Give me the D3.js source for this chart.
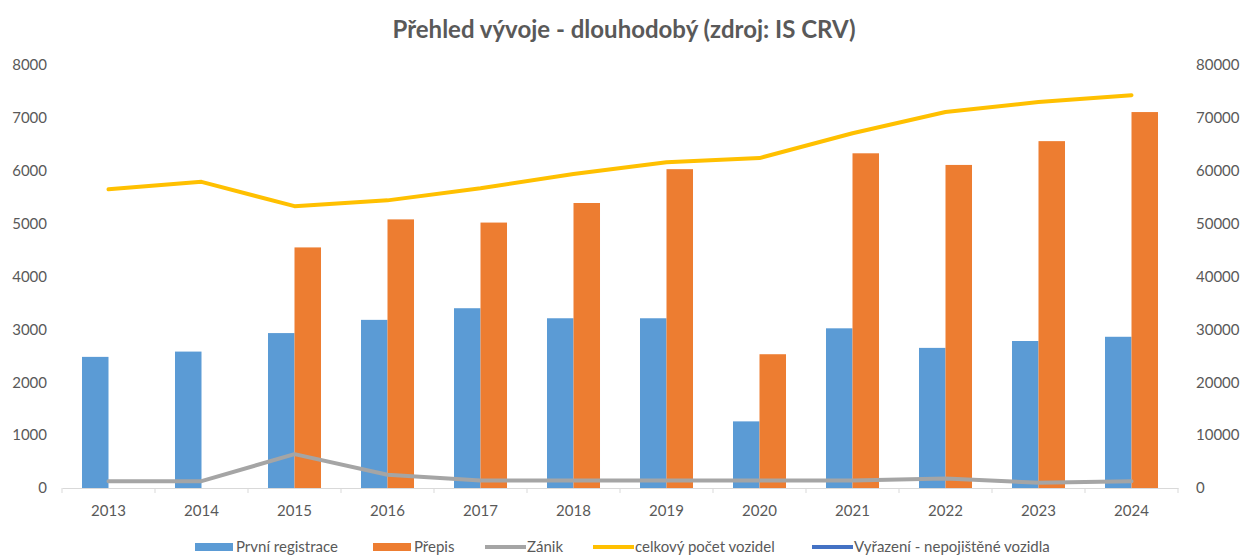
<!DOCTYPE html>
<html><head><meta charset="utf-8">
<script src="https://cdn.jsdelivr.net/npm/d3@7"></script>
<style>body{margin:0;background:#fff}svg{display:block}</style>
</head><body><svg id="c" width="1240" height="556"></svg>
<script>
const years = ["2013","2014","2015","2016","2017","2018","2019","2020","2021","2022","2023","2024"];
const prvniRegistrace = [2480,2580,2930,3180,3400,3210,3210,1260,3020,2650,2780,2860];
const prepis = [null,null,4550,5080,5020,5390,6030,2530,6330,6110,6560,7110];
const zanik = [130,130,640,250,140,140,140,140,140,180,100,130];
const celkovyPocet = [56500,57900,53300,54400,56700,59400,61600,62400,67100,71100,73000,74300];
const vyrazeni = [null,null,null,null,null,null,null,null,null,null,null,null];
const leftTicks = [0,1000,2000,3000,4000,5000,6000,7000,8000];
const rightTicks = [0,10000,20000,30000,40000,50000,60000,70000,80000];
const title = "Přehled vývoje - dlouhodobý (zdroj: IS CRV)";
const legendItems = [
  {name:"První registrace", type:"bar", color:"#5B9BD5"},
  {name:"Přepis", type:"bar", color:"#ED7D31"},
  {name:"Zánik", type:"line", color:"#A5A5A5"},
  {name:"celkový počet vozidel", type:"line", color:"#FFC000"},
  {name:"Vyřazení - nepojištěné vozidla", type:"line", color:"#4472C4"}
];

const svg = d3.select("#c");
const F = "Lato, 'Open Sans', sans-serif";
const L = 62, R = 1178, T = 65, B = 488;
const x = d3.scaleBand().domain(years).range([L,R]).paddingInner(0).paddingOuter(0);
const yL = d3.scaleLinear().domain([0,8000]).range([B,T]);
const yR = d3.scaleLinear().domain([0,80000]).range([B,T]);
const bw = x.bandwidth()*0.285;

svg.append("text").attr("x",624).attr("y",38).attr("text-anchor","middle")
  .attr("font-family",F).attr("font-weight","bold").attr("font-size",24).attr("fill","#595959").text(title);

// x axis
const xa = svg.append("g").attr("transform",`translate(0,${B})`)
  .call(d3.axisBottom(x).tickSize(0).tickPadding(17));
xa.select(".domain").attr("stroke","#D9D9D9");
xa.selectAll("text").attr("font-family",F).attr("font-size",15).attr("fill","#595959");
svg.append("g").selectAll("line").data(d3.range(years.length+1)).join("line")
  .attr("x1",i=>L+i*x.step()).attr("x2",i=>L+i*x.step()).attr("y1",B).attr("y2",B+5).attr("stroke","#D9D9D9");

// left axis
const la = svg.append("g").attr("transform",`translate(${L-15},0)`)
  .call(d3.axisLeft(yL).tickValues(leftTicks).tickSize(0).tickPadding(0).tickFormat(d3.format("d")));
la.select(".domain").remove();
la.selectAll("text").attr("font-family",F).attr("font-size",15).attr("fill","#595959");
const ra = svg.append("g").attr("transform",`translate(${R+18},0)`)
  .call(d3.axisRight(yR).tickValues(rightTicks).tickSize(0).tickPadding(0).tickFormat(d3.format("d")));
ra.select(".domain").remove();
ra.selectAll("text").attr("font-family",F).attr("font-size",15).attr("fill","#595959");

// bars
const cx = d => x(d)+x.bandwidth()/2;
svg.append("g").selectAll("rect").data(years.map((y,i)=>({y,v:prvniRegistrace[i]})).filter(d=>d.v!=null)).join("rect")
  .attr("x",d=>cx(d.y)-bw).attr("width",bw).attr("y",d=>yL(d.v)).attr("height",d=>B-yL(d.v)).attr("fill","#5B9BD5");
svg.append("g").selectAll("rect").data(years.map((y,i)=>({y,v:prepis[i]})).filter(d=>d.v!=null)).join("rect")
  .attr("x",d=>cx(d.y)).attr("width",bw).attr("y",d=>yL(d.v)).attr("height",d=>B-yL(d.v)).attr("fill","#ED7D31");

// lines
const lineL = d3.line().defined(d=>d.v!=null).x(d=>cx(d.y)).y(d=>yL(d.v));
const lineR = d3.line().defined(d=>d.v!=null).x(d=>cx(d.y)).y(d=>yR(d.v));
svg.append("path").datum(years.map((y,i)=>({y,v:zanik[i]}))).attr("d",lineL)
  .attr("fill","none").attr("stroke","#A5A5A5").attr("stroke-width",4).attr("stroke-linejoin","round").attr("stroke-linecap","round");
svg.append("path").datum(years.map((y,i)=>({y,v:vyrazeni[i]}))).attr("d",lineL)
  .attr("fill","none").attr("stroke","#4472C4").attr("stroke-width",4);
svg.append("path").datum(years.map((y,i)=>({y,v:celkovyPocet[i]}))).attr("d",lineR)
  .attr("fill","none").attr("stroke","#FFC000").attr("stroke-width",4).attr("stroke-linejoin","round").attr("stroke-linecap","round");

// legend
const lg = svg.append("g").attr("transform","translate(0,547)");
const startX = [195,373,485,593,812];
legendItems.forEach((it,i)=>{
  const g = lg.append("g").attr("transform",`translate(${startX[i]},0)`);
  if(it.type==="bar") g.append("rect").attr("x",0).attr("y",-4).attr("width",38).attr("height",8).attr("fill",it.color);
  else g.append("line").attr("x1",0).attr("x2",41).attr("y1",0).attr("y2",0).attr("stroke",it.color).attr("stroke-width",4);
  g.append("text").attr("x",it.type==="bar"?41:42).attr("y",5).attr("font-family",F).attr("font-size",15).attr("fill","#595959").text(it.name);
});
</script></body></html>
